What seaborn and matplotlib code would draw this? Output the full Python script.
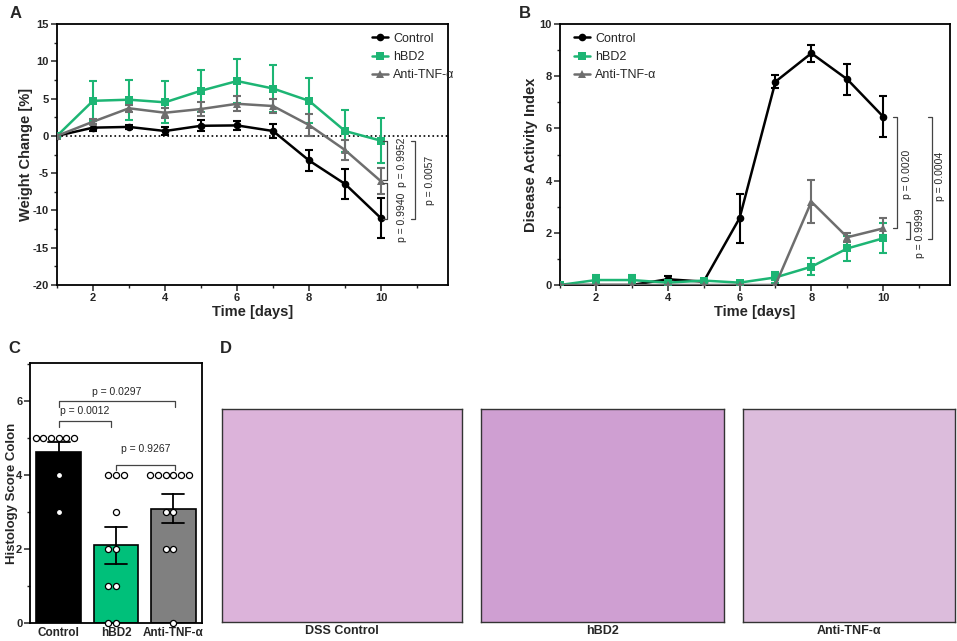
import numpy as np
import pandas as pd
import matplotlib
matplotlib.use('Agg')
import matplotlib.pyplot as plt
from matplotlib.ticker import MultipleLocator
import seaborn as sns

# ---- data ----
days = [1, 2, 3, 4, 5, 6, 7, 8, 9, 10]
groups = ['Control', 'hBD2', 'Anti-TNF-α']

# A: weight change [%] (mean, sem)
wc_control = [0, 1.1, 1.2, 0.65, 1.35, 1.4, 0.65, -3.3, -6.45, -11.05]
wc_control_sem = [0, 0.5, 0.3, 0.55, 0.75, 0.65, 0.9, 1.45, 2.0, 2.65]
wc_hbd2 = [0, 4.7, 4.85, 4.5, 6.05, 7.35, 6.35, 4.7, 0.65, -0.65]
wc_hbd2_sem = [0, 2.7, 2.7, 2.8, 2.8, 2.9, 3.1, 3.0, 2.8, 3.0]
wc_anti = [0, 1.9, 3.7, 3.1, 3.6, 4.3, 4.0, 1.45, -1.9, -6.1]
wc_anti_sem = [0, 0.3, 0.45, 0.7, 1.0, 1.0, 1.0, 1.5, 1.3, 1.75]

# B: disease activity index (mean, sem)
dai_control = [0, 0, 0, 0.22, 0.13, 2.56, 7.79, 8.88, 7.88, 6.45]
dai_control_sem = [0, 0, 0, 0.12, 0.08, 0.94, 0.26, 0.32, 0.6, 0.78]
dai_hbd2 = [0, 0.19, 0.19, 0.09, 0.17, 0.09, 0.29, 0.7, 1.4, 1.79]
dai_hbd2_sem = [0, 0.2, 0.2, 0.1, 0.07, 0.05, 0.22, 0.33, 0.47, 0.57]
dai_anti = [0, 0, 0, 0, 0, 0, 0, 3.19, 1.83, 2.17]
dai_anti_sem = [0, 0, 0, 0, 0, 0, 0, 0.83, 0.17, 0.4]

# C: histology score per animal
hist_control = [5, 5, 5, 5, 5, 5, 4, 3]
hist_hbd2 = [4, 4, 4, 3, 2, 2, 1, 1, 0, 0]
hist_anti = [4, 4, 4, 4, 4, 4, 3, 3, 2, 2, 0]

# D: histology image captions
image_titles = ['DSS Control', 'hBD2', 'Anti-TNF-α']

# ---- style ----
sns.set_style('ticks')
plt.rcParams['font.family'] = ['Liberation Sans', 'DejaVu Sans']
plt.rcParams['axes.unicode_minus'] = False
plt.rcParams['axes.linewidth'] = 1.3
plt.rcParams['xtick.major.width'] = 1.1
plt.rcParams['ytick.major.width'] = 1.1
plt.rcParams['xtick.minor.width'] = 1.0
plt.rcParams['ytick.minor.width'] = 1.0
plt.rcParams['xtick.major.size'] = 4
plt.rcParams['ytick.major.size'] = 4
plt.rcParams['xtick.minor.size'] = 2.5
plt.rcParams['ytick.minor.size'] = 2.5

colors = {'Control': 'black', 'hBD2': '#1db574', 'Anti-TNF-α': '#6e6e6e'}
markers = {'Control': 'o', 'hBD2': 's', 'Anti-TNF-α': '^'}

W, H = 957, 641
fig = plt.figure(figsize=(W / 100, H / 100), dpi=100)


def px_axes(left, top, right, bottom):
    return fig.add_axes([left / W, 1 - bottom / H, (right - left) / W, (bottom - top) / H])


def bracket(ax, x, y1, y2, tick, color='#444444'):
    ax.plot([x - tick, x, x, x - tick], [y1, y1, y2, y2], color=color, lw=0.9,
            clip_on=False, zorder=5)


def bold_ticks(ax):
    for lab in ax.get_xticklabels() + ax.get_yticklabels():
        lab.set_fontweight('bold')


def time_panel(ax, means, sems, ylabel):
    df = pd.DataFrame({
        'day': days * 3,
        'value': means[0] + means[1] + means[2],
        'group': [g for g in groups for _ in days],
    })
    for g, m, s in zip(groups, means, sems):
        ax.errorbar(days, m, yerr=s, fmt='none', ecolor=colors[g], elinewidth=1.5,
                    capsize=2.6, capthick=1.5, zorder=2)
    sns.lineplot(data=df, x='day', y='value', hue='group', style='group',
                 hue_order=groups, style_order=groups, palette=colors,
                 markers=markers, dashes=False, markersize=5.5, linewidth=1.8,
                 markeredgewidth=0, ax=ax, zorder=3)
    ax.set_xlim(1, 11.86)
    ax.xaxis.set_major_locator(MultipleLocator(2))
    ax.xaxis.set_minor_locator(MultipleLocator(1))
    ax.set_xlabel('Time [days]', fontsize=10.5, fontweight='bold', labelpad=1)
    ax.set_ylabel(ylabel, fontsize=10.5, fontweight='bold')
    ax.tick_params(labelsize=8, pad=2)
    for sp in ax.spines.values():
        sp.set_visible(True)
        sp.set_color('black')
    handles, labels = ax.get_legend_handles_labels()
    ax.get_legend().remove()
    return handles, labels


leg_kw = dict(loc='upper left', frameon=False, fontsize=9, handlelength=1.25,
              handletextpad=0.45, labelspacing=0.5, borderpad=0)

# ---- A ----
axA = px_axes(57, 24, 448, 285)
axA.axhline(0, color='black', ls=':', lw=1.2, zorder=1)
hA, lA = time_panel(axA, [wc_control, wc_hbd2, wc_anti],
                    [wc_control_sem, wc_hbd2_sem, wc_anti_sem], 'Weight Change [%]')
axA.yaxis.set_label_coords(-0.062, 0.5)
axA.set_ylim(-20, 15)
axA.yaxis.set_major_locator(MultipleLocator(5))
axA.yaxis.set_minor_locator(MultipleLocator(2.5))
bold_ticks(axA)
axA.legend(hA, lA, bbox_to_anchor=(0.79, 0.99), **leg_kw)
bracket(axA, 10.17, -0.7, -5.9, 0.12)
bracket(axA, 10.17, -6.3, -11.1, 0.12)
bracket(axA, 10.94, -0.7, -11.1, 0.12)
axA.text(10.57, -3.5, 'p = 0.9952', rotation=90, ha='center', va='center', fontsize=7.5)
axA.text(10.57, -10.9, 'p = 0.9940', rotation=90, ha='center', va='center', fontsize=7.5)
axA.text(11.36, -6.0, 'p = 0.0057', rotation=90, ha='center', va='center', fontsize=7.5)

# ---- B ----
axB = px_axes(560, 24, 950, 285)
hB, lB = time_panel(axB, [dai_control, dai_hbd2, dai_anti],
                    [dai_control_sem, dai_hbd2_sem, dai_anti_sem], 'Disease Activity Index')
axB.yaxis.set_label_coords(-0.056, 0.5)
axB.set_ylim(0, 10)
axB.yaxis.set_major_locator(MultipleLocator(2))
axB.yaxis.set_minor_locator(MultipleLocator(1))
bold_ticks(axB)
axB.legend(hB, lB, bbox_to_anchor=(0.02, 0.99), **leg_kw)
bracket(axB, 10.39, 6.44, 2.18, 0.12)
bracket(axB, 10.75, 2.41, 1.76, 0.12)
bracket(axB, 11.36, 6.44, 1.76, 0.12)
axB.text(10.66, 4.25, 'p = 0.0020', rotation=90, ha='center', va='center', fontsize=7.5)
axB.text(11.03, 1.97, 'p = 0.9999', rotation=90, ha='center', va='center', fontsize=7.5)
axB.text(11.58, 4.15, 'p = 0.0004', rotation=90, ha='center', va='center', fontsize=7.5)

# ---- C ----
axC = px_axes(30, 363, 202, 623)
hist_df = pd.DataFrame({
    'group': ['Control'] * len(hist_control) + ['hBD2'] * len(hist_hbd2)
             + ['Anti-TNF-α'] * len(hist_anti),
    'score': hist_control + hist_hbd2 + hist_anti,
})
bar_colors = {'Control': 'black', 'hBD2': '#00c07a', 'Anti-TNF-α': '#808080'}
sns.barplot(data=hist_df, x='group', y='score', hue='group', order=groups,
            palette=bar_colors, saturation=1, errorbar='se', capsize=0.38, width=0.78,
            edgecolor='black', linewidth=1.2,
            err_kws={'color': 'black', 'linewidth': 1.3}, ax=axC, legend=False)
sns.swarmplot(data=hist_df, x='group', y='score', order=groups, color='white',
              edgecolor='black', linewidth=0.9, size=4.4, ax=axC, zorder=4)
for coll in axC.collections:
    coll.set_clip_on(False)
axC.set_xlim(-0.5, 2.5)
axC.set_ylim(0, 7.03)
axC.yaxis.set_major_locator(MultipleLocator(2))
axC.yaxis.set_minor_locator(MultipleLocator(1))
axC.set_xlabel('')
axC.set_ylabel('Histology Score Colon', fontsize=9.5, fontweight='bold')
axC.yaxis.set_label_coords(-0.07, 0.5)
axC.tick_params(labelsize=8, pad=1.5)
axC.tick_params(axis='x', length=0, labelsize=8.5, pad=3)
bold_ticks(axC)
for sp in axC.spines.values():
    sp.set_visible(True)
    sp.set_color('black')


def hbracket(ax, x1, x2, y, drop, text, ty):
    ax.plot([x1, x1, x2, x2], [y - drop, y, y, y - drop], color='#444444', lw=0.9, zorder=5)
    ax.text((x1 + x2) / 2, ty, text, ha='center', va='center', fontsize=7.5)


hbracket(axC, 0, 2.03, 6.0, 0.16, 'p = 0.0297', 6.24)
hbracket(axC, 0, 0.91, 5.46, 0.16, 'p = 0.0012', 5.73)
hbracket(axC, 1.0, 2.03, 4.27, 0.14, 'p = 0.9267', 4.7)

# ---- D: image frames ----
frames = [(222, 462), (481, 724), (743, 955)]
fills = ['#dcb3da', '#cf9fd2', '#dcbcdc']
for (l, r), title, fc in zip(frames, image_titles, fills):
    axD = px_axes(l, 409, r, 622)
    axD.set_facecolor(fc)
    axD.set_xticks([])
    axD.set_yticks([])
    for sp in axD.spines.values():
        sp.set_visible(True)
        sp.set_color('#333333')
        sp.set_linewidth(1.0)
    axD.text(0.5, -0.042, title, transform=axD.transAxes, ha='center', va='center',
             fontsize=9, fontweight='bold')

# ---- panel letters ----
for letter, x, y in [('A', 16, 14), ('B', 525, 14), ('C', 14, 348), ('D', 226, 348)]:
    fig.text(x / W, 1 - y / H, letter, fontsize=12, fontweight='bold',
             ha='center', va='center')

fig.savefig('out.png', dpi=100)
